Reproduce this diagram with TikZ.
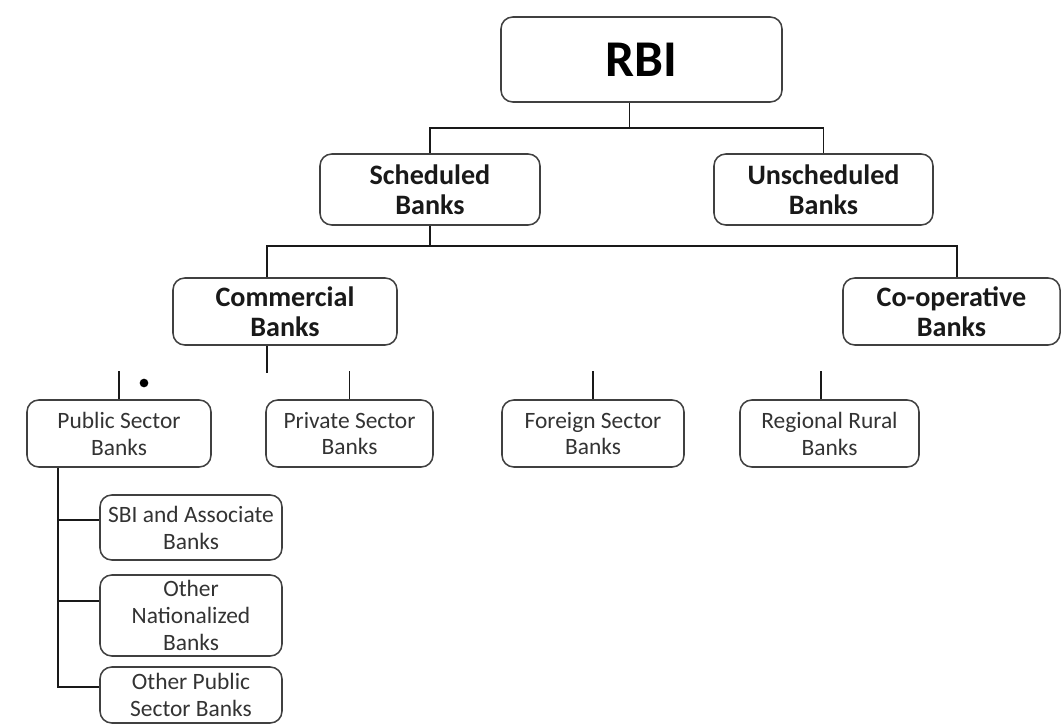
\documentclass[tikz,border=0pt]{standalone}
\usepackage{fontspec}
\setmainfont{Carlito}
\usetikzlibrary{calc}
\tikzset{
	bx/.style 2 args = {draw=black!75, line width=1.3pt, rounded corners=10pt,
		align=center, inner sep=0pt, fill=white,
		minimum width=#1*0.03cm, minimum height=#2*0.03cm},
	lvA/.style = {font=\fontsize{44}{50}\selectfont\bfseries},
	lvB/.style = {font=\fontsize{24}{25.6}\selectfont\bfseries, text=black!90},
	lvC/.style = {font=\fontsize{20}{23}\selectfont, text=black!80},
	ln/.style  = {line width=1.4pt, black!90},
}
\begin{document}
\begin{tikzpicture}[x=0.03cm, y=-0.03cm]
	
	%%═══════════════════════════════════════════════════════════════════
	%% CANVAS  (1 unit = 1 px of the 1061 x 726 sheet, y runs down)
	%%═══════════════════════════════════════════════════════════════════
	\useasboundingbox (0,0) rectangle (1061,726);
	
	%% Top ─────────────────────────────────────────────────────────────
	\node[bx={281}{85}, lvA] (rbi) at (641.5, 59.5) {RBI};
	
	%% Level 2 ─────────────────────────────────────────────────────────
	\node[bx={220}{71}, lvB] (sched)   at (430,   189.5) {Scheduled\\Banks};
	\node[bx={219}{71}, lvB] (unsched) at (823.5, 189.5) {Unscheduled\\Banks};
	
	%% Level 3 ─────────────────────────────────────────────────────────
	\node[bx={224}{67}, lvB] (comm) at (285,   311.5) {Commercial\\Banks};
	\node[bx={217}{67}, lvB] (coop) at (951.5, 311.5) {Co-operative\\Banks};
	
	%% Level 4 ─────────────────────────────────────────────────────────
	\node[bx={184}{67}, lvC] (pub)  at (119,   433.5) {Public Sector\\Banks};
	\node[bx={167}{67}, lvC] (priv) at (349.5, 433.5) {Private Sector\\Banks};
	\node[bx={182}{67}, lvC] (forn) at (593,   433.5) {Foreign Sector\\Banks};
	\node[bx={179}{67}, lvC] (rrb)  at (829.5, 433.5) {Regional Rural\\Banks};
	\node[circle, fill=black, inner sep=0pt, minimum size=0.26cm] (dot) at (144, 383) {};
	
	%% Public sector split ─────────────────────────────────────────────
	\node[bx={182}{65}, lvC] (sbi) at (191, 527.5) {SBI and Associate\\Banks};
	\node[bx={182}{81}, lvC] (nat) at (191, 615.5) {Other\\Nationalized\\Banks};
	\node[bx={182}{56}, lvC] (oth) at (191, 695)   {Other Public\\Sector Banks};
	
	%%═══════════════════════════════════════════════════════════════════
	%% CONNECTORS
	%%═══════════════════════════════════════════════════════════════════
	
	%% RBI -> scheduled / unscheduled
	\draw[ln] ([xshift=-0.36cm]rbi.south) -- ++(0,25) coordinate (busA);
	\draw[ln] (sched.north) |- (busA) -| (unsched.north);
	
	%% scheduled -> commercial / co-operative
	\draw[ln] (sched.south) -- ++(0,20) coordinate (busB);
	\draw[ln] ([xshift=-0.54cm]comm.north) |- (busB) -| ([xshift=0.165cm]coop.north);
	
	%% loose stubs
	\draw[ln] ([xshift=-0.54cm]comm.south) -- ++(0,27);
	\foreach \n in {pub, priv, forn}
	\draw[ln] (\n.north) -- ++(0,-28);
	\draw[ln] ([xshift=-0.25cm]rrb.north) -- ++(0,-28);
	
	%% public sector -> its three groups
	\coordinate (trunk) at ($(pub.south)+(-61,0)$);
	\draw[ln] (trunk) |- ([yshift=0.225cm]sbi.west);
	\draw[ln] (trunk) |- ([yshift=0.435cm]nat.west);
	\draw[ln] (trunk) |- ([yshift=0.24cm]oth.west);
	
\end{tikzpicture}
\end{document}
